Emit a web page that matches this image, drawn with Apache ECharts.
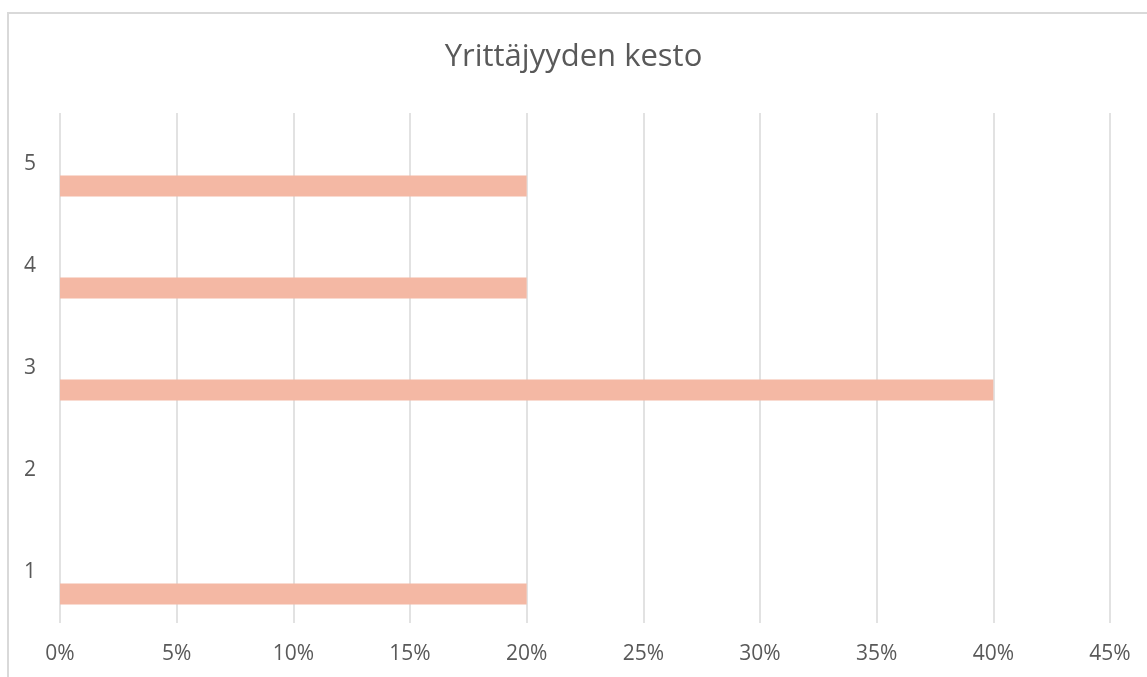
<!DOCTYPE html>
<html lang="fi" style="height: 100%">

<head>
  <meta charset="utf-8">
</head>

<body style="height: 100%; margin: 0; background: #fff">
  <div id="container" style="width: 1147px; height: 677px"></div>

  <script type="text/javascript" src="https://cdn.jsdelivr.net/npm/echarts@6.0.0/dist/echarts.min.js"></script>
  <script type="text/javascript">
    // kategoriat alhaalta ylös
    var categories = ['1', '2', '3', '4', '5'];
    // osuudet prosentteina
    var shares = [20, 0, 40, 20, 20];
    // tyhjä sarja (Excel-kaaviossa pylväs siirtyy alaspäin)
    var emptySeries = [null, null, null, null, null];
    var xTicks = [0, 5, 10, 15, 20, 25, 30, 35, 40, 45];

    var textColor = '#595959';
    var gridColor = '#d9d9d9';
    var barColor = '#f4b8a4';
    var font = '"Open Sans", sans-serif';

    var myChart = echarts.init(document.getElementById('container'));
    myChart.setOption({
      animation: false,
      title: {
        text: 'Yrittäjyyden kesto',
        left: 'center',
        top: 37,
        textStyle: { color: textColor, fontSize: 31, fontWeight: 'normal', fontFamily: font }
      },
      grid: { left: 60, right: 37, top: 113, bottom: 54, containLabel: false },
      xAxis: {
        type: 'value',
        min: xTicks[0],
        max: xTicks[xTicks.length - 1],
        interval: 5,
        axisLine: { show: false },
        axisTick: { show: false },
        splitLine: { lineStyle: { color: gridColor, width: 1.5 } },
        axisLabel: {
          color: textColor, fontSize: 21, fontFamily: font, margin: 21,
          formatter: function (v) { return v + '%'; }
        }
      },
      yAxis: {
        type: 'category',
        data: categories,
        axisLine: { show: false },
        axisTick: { show: false },
        splitLine: { show: false },
        axisLabel: { color: textColor, fontSize: 21, fontFamily: font, margin: 24 }
      },
      series: [
        {
          type: 'bar',
          data: emptySeries,
          barWidth: 21,
          barGap: '110%',
          itemStyle: { color: barColor }
        },
        {
          type: 'bar',
          data: shares,
          barWidth: 21,
          barGap: '110%',
          itemStyle: { color: barColor }
        }
      ],
      graphic: [
        {
          type: 'rect',
          shape: { x: 8, y: 13, width: 1200, height: 800 },
          style: { fill: 'none', stroke: gridColor, lineWidth: 2 },
          silent: true
        }
      ]
    });
  </script>
</body>

</html>
